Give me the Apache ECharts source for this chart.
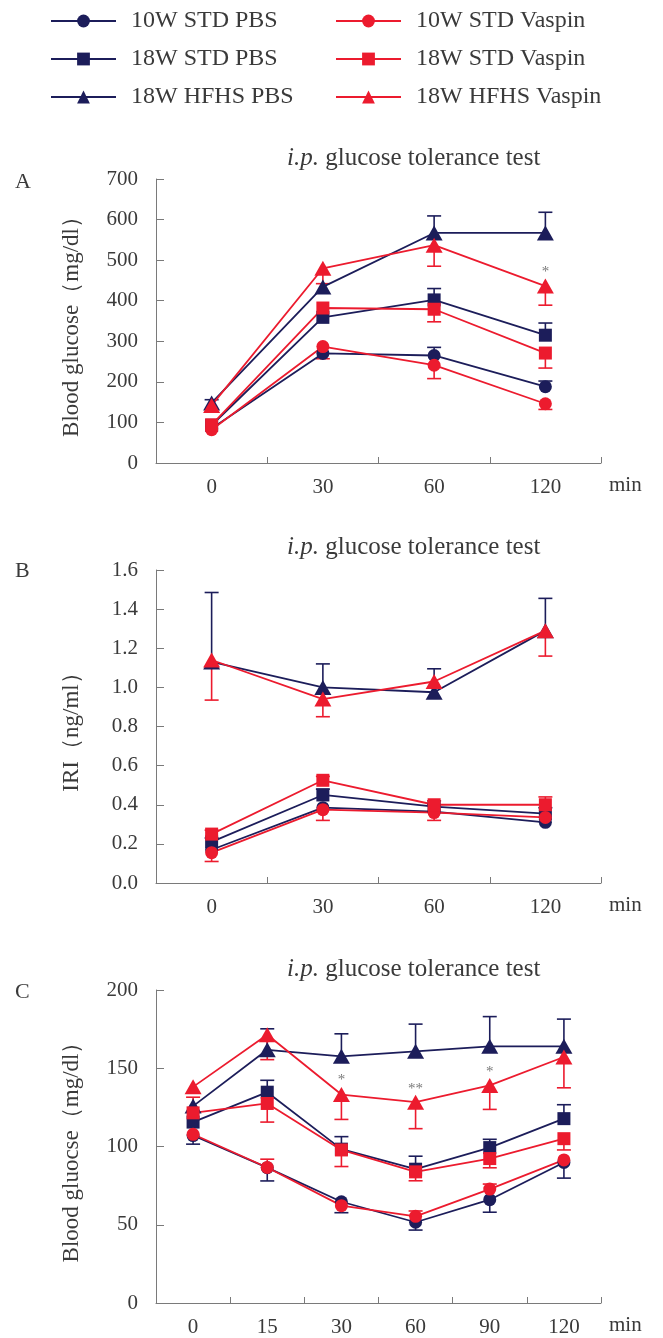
<!DOCTYPE html>
<html>
<head>
<meta charset="utf-8">
<script src="https://cdn.jsdelivr.net/npm/echarts@6/dist/echarts.min.js"></script>
<style>
  html, body { margin: 0; padding: 0; background: #fff; }
  #chart { width: 663px; height: 1338px; }
</style>
</head>
<body>
<div id="chart"></div>
<script>
// categories (min after injection)
const timesAB = ['0', '30', '60', '120']
const timesC = ['0', '15', '30', '60', '90', '120']

const pbsNames = ['10W STD PBS', '18W STD PBS', '18W HFHS PBS']
const vasNames = ['10W STD Vaspin', '18W STD Vaspin', '18W HFHS Vaspin']

// A: blood glucose (mg/dl); err > 0 drawn up, err < 0 drawn down
const aPbs10 = [85, 270, 265, 188]
const aPbs10Err = [0, 0, 20, 14]
const aPbs18 = [93, 359, 402, 315]
const aPbs18Err = [0, 0, 28, 30]
const aPbsH = [148, 434, 567, 567]
const aPbsHErr = [8, 0, 42, 51]
const aVas10 = [82, 287, 241, 146]
const aVas10Err = [0, -30, -33, -14]
const aVas18 = [94, 382, 379, 271]
const aVas18Err = [0, 0, -31, -37]
const aVasH = [142, 480, 537, 436]
const aVasHErr = [0, -38, -52, -47]

// B: IRI (ng/ml)
const bPbs10 = [0.17, 0.385, 0.365, 0.31]
const bPbs10Err = [0, 0, 0, 0]
const bPbs18 = [0.21, 0.45, 0.39, 0.355]
const bPbs18Err = [0.02, 0.03, 0.01, 0.03]
const bPbsH = [1.13, 1.0, 0.975, 1.29]
const bPbsHErr = [0.355, 0.12, 0.12, 0.165]
const bVas10 = [0.155, 0.375, 0.36, 0.335]
const bVas10Err = [-0.045, -0.055, -0.04, 0]
const bVas18 = [0.25, 0.525, 0.4, 0.4]
const bVas18Err = [0.02, 0.02, 0.02, 0.04]
const bVasH = [1.14, 0.94, 1.03, 1.29]
const bVasHErr = [-0.205, -0.09, 0, -0.13]

// C: blood glucose (mg/dl)
const cPbs10 = [107, 86.5, 64.7, 51.6, 66, 89.8]
const cPbs10Err = [-5.5, -8.5, -7, -5, -8, -10]
const cPbs18 = [115.6, 134.7, 98.3, 85.5, 99.3, 117.8]
const cPbs18Err = [0, 7.6, 8, 8.3, 5.3, 8.9]
const cPbsH = [125.8, 161.8, 157.6, 160.8, 164, 164]
const cPbsHErr = [0, 13.4, 14.4, 17.4, 19, 17.4]
const cVas10 = [107.8, 86.6, 62.2, 55.4, 72.8, 91.4]
const cVas10Err = [0, 5.3, 0, 3.4, 3.2, 0]
const cVas18 = [121.5, 127.5, 97.8, 83.8, 92.3, 105]
const cVas18Err = [10, -11.9, -10.6, -5.7, -5.9, -7.2]
const cVasH = [138.1, 171.4, 133.2, 128.3, 139, 157.2]
const cVasHErr = [0, -15.9, -15.9, -16.9, -15.3, -19.7]

// significance marks [category, value, text]
const sigA = [['120', 471, '*']]
const sigC = [['30', 142.7, '*'], ['60', 136.8, '**'], ['90', 147.7, '*']]

const navy = '#1c1d5a'
const red = '#ec1b2e'
const font = 'Liberation Serif'
const textColor = '#3a3a3a'
const axisColor = '#7a7a7a'

const groups = [
  { name: pbsNames[0], color: navy, symbol: 'circle', size: 13 },
  { name: pbsNames[1], color: navy, symbol: 'rect', size: 13 },
  { name: pbsNames[2], color: navy, symbol: 'triangle', size: [17, 15] },
  { name: vasNames[0], color: red, symbol: 'circle', size: 13 },
  { name: vasNames[1], color: red, symbol: 'rect', size: 13 },
  { name: vasNames[2], color: red, symbol: 'triangle', size: [17, 15] }
]

const panels = [
  {
    cats: timesAB,
    vals: [aPbs10, aPbs18, aPbsH, aVas10, aVas18, aVasH],
    errs: [aPbs10Err, aPbs18Err, aPbsHErr, aVas10Err, aVas18Err, aVasHErr],
    sig: sigA
  },
  {
    cats: timesAB,
    vals: [bPbs10, bPbs18, bPbsH, bVas10, bVas18, bVasH],
    errs: [bPbs10Err, bPbs18Err, bPbsHErr, bVas10Err, bVas18Err, bVasHErr],
    sig: []
  },
  {
    cats: timesC,
    vals: [cPbs10, cPbs18, cPbsH, cVas10, cVas18, cVasH],
    errs: [cPbs10Err, cPbs18Err, cPbsHErr, cVas10Err, cVas18Err, cVasHErr],
    sig: sigC
  }
]

const errorBar = (color) => (params, api) => {
  const x = api.value(0)
  const v = api.value(1)
  const e = api.value(2)
  if (!e) return
  const p0 = api.coord([x, v])
  const p1 = api.coord([x, v + e])
  const hw = 7
  return {
    type: 'group',
    children: [
      { type: 'line', shape: { x1: p0[0], y1: p0[1], x2: p1[0], y2: p1[1] }, style: { stroke: color, lineWidth: 1.6 } },
      { type: 'line', shape: { x1: p1[0] - hw, y1: p1[1], x2: p1[0] + hw, y2: p1[1] }, style: { stroke: color, lineWidth: 1.6 } }
    ]
  }
}

const series = []
panels.forEach((panel, pi) => {
  groups.forEach((g, gi) => {
    series.push({
      name: g.name + ' err',
      type: 'custom',
      xAxisIndex: pi,
      yAxisIndex: pi,
      z: 1,
      renderItem: errorBar(g.color),
      encode: { x: 0, y: 1 },
      data: panel.vals[gi].map((v, i) => [i, v, panel.errs[gi][i]])
    })
  })
  groups.forEach((g, gi) => {
    series.push({
      name: g.name,
      type: 'line',
      xAxisIndex: pi,
      yAxisIndex: pi,
      z: 3,
      symbol: g.symbol,
      symbolSize: g.size,
      showAllSymbol: true,
      color: g.color,
      itemStyle: { color: g.color, opacity: 1 },
      lineStyle: { color: g.color, width: 1.8 },
      emphasis: { disabled: true },
      data: panel.vals[gi]
    })
  })
  series.push({
    name: 'sig',
    type: 'scatter',
    xAxisIndex: pi,
    yAxisIndex: pi,
    symbolSize: 0,
    z: 4,
    label: {
      show: true,
      position: 'inside',
      formatter: (p) => p.data[2],
      fontFamily: font,
      fontSize: 15,
      color: '#555'
    },
    data: panel.sig
  })
})

const grids = [
  { left: 156, right: 62, top: 179, height: 284 },
  { left: 156, right: 62, top: 570, height: 313 },
  { left: 156, right: 62, top: 990, height: 314 }
]

const yAxes = [
  { min: 0, max: 700, interval: 100, name: 'Blood glucose（mg/dl）' },
  { min: 0, max: 1.6, interval: 0.2, name: 'IRI（ng/ml）', fmt: (v) => v.toFixed(1) },
  { min: 0, max: 200, interval: 50, name: 'Blood gluocse（mg/dl）' }
]

const option = {
  animation: false,
  backgroundColor: '#fff',
  textStyle: { fontFamily: font },
  legend: [
    { data: pbsNames, left: 50 },
    { data: vasNames, left: 335 }
  ].map((l) => ({
    ...l,
    top: 9,
    padding: 0,
    orient: 'vertical',
    selectedMode: false,
    itemWidth: 65,
    itemHeight: 16,
    itemGap: 14,
    textStyle: { fontFamily: font, fontSize: 24, color: textColor, padding: [0, 0, 0, 10] }
  })),
  title: [146, 535, 957].map((top) => ({
    text: '{i|i.p.} glucose tolerance test',
    left: 287,
    top: top,
    padding: 0,
    textStyle: {
      fontFamily: font,
      fontSize: 25,
      fontWeight: 'normal',
      color: textColor,
      rich: { i: { fontFamily: font, fontSize: 25, fontStyle: 'italic', color: textColor } }
    }
  })),
  grid: grids,
  xAxis: panels.map((p, i) => ({
    type: 'category',
    gridIndex: i,
    data: p.cats,
    boundaryGap: true,
    axisLine: { lineStyle: { color: axisColor, width: 1 } },
    axisTick: { show: true, inside: true, length: 6, lineStyle: { color: axisColor } },
    axisLabel: { fontFamily: font, fontSize: 21, color: textColor, margin: 14 },
    splitLine: { show: false }
  })),
  yAxis: yAxes.map((y, i) => ({
    type: 'value',
    gridIndex: i,
    min: y.min,
    max: y.max,
    interval: y.interval,
    name: y.name,
    nameLocation: 'middle',
    nameGap: 73,
    nameTextStyle: { fontFamily: font, fontSize: 23, color: textColor },
    axisLine: { show: true, lineStyle: { color: axisColor, width: 1 } },
    axisTick: { show: true, inside: true, length: 8, lineStyle: { color: axisColor } },
    axisLabel: { fontFamily: font, fontSize: 21, color: textColor, margin: 18, formatter: y.fmt },
    splitLine: { show: false }
  })),
  graphic: [
    ['A', 183], ['B', 572], ['C', 993]
  ].map(([t, y]) => ({
    type: 'text',
    left: 15,
    top: y - 12,
    style: { text: t, font: '22px "Liberation Serif"', fill: textColor }
  })).concat([487, 907, 1327].map((y) => ({
    type: 'text',
    left: 609,
    top: y - 12,
    style: { text: 'min', font: '21px "Liberation Serif"', fill: textColor }
  }))),
  series: series
}

const chart = echarts.init(document.getElementById('chart'), null, { renderer: 'canvas' })
chart.setOption(option)
</script>
</body>
</html>
